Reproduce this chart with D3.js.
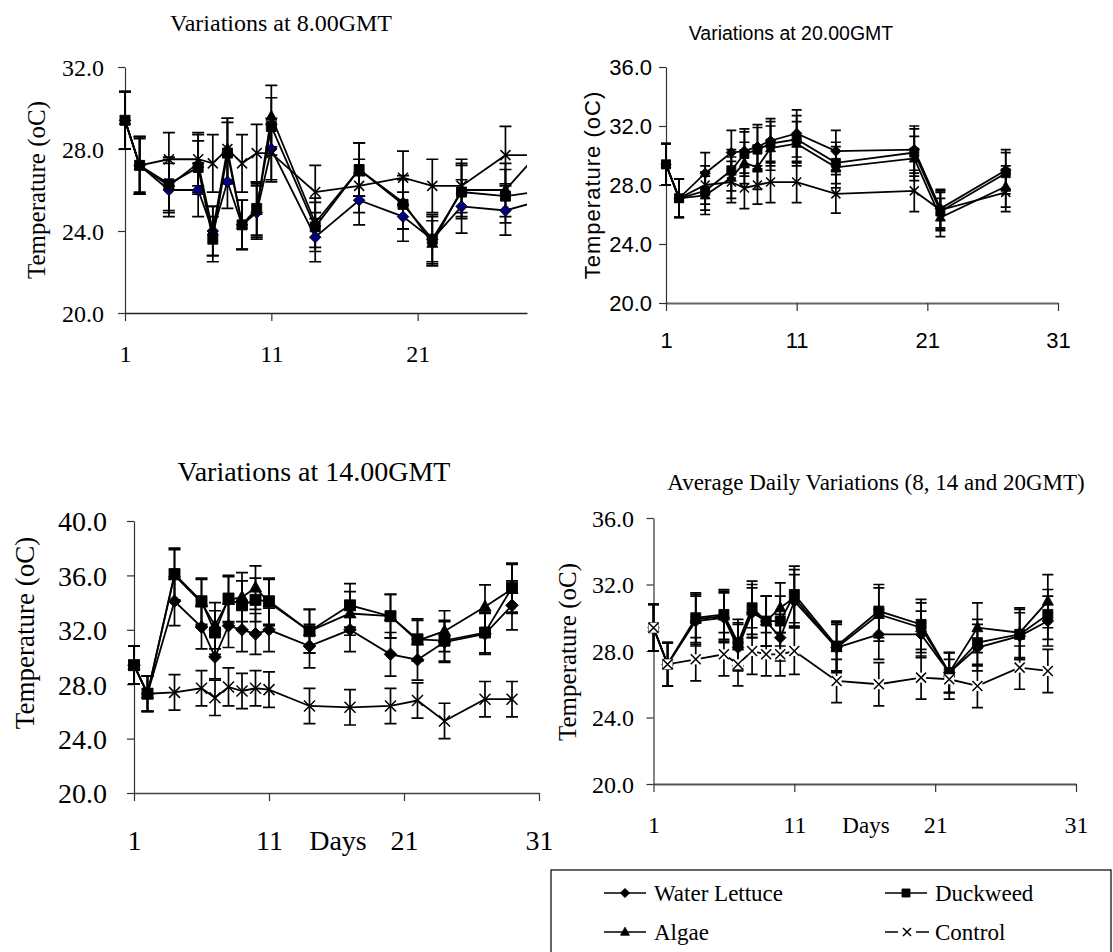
<!DOCTYPE html>
<html>
<head>
<meta charset="utf-8">
<script src="https://cdn.jsdelivr.net/npm/d3@7/dist/d3.min.js"></script>
<style>
body { margin: 0; background: #fff; }
</style>
</head>
<body>
<svg id="chart" width="1113" height="952"></svg>
<script>
// days sampled
var dayAll = [1, 2, 4, 6, 7, 8, 9, 10, 11, 14, 17, 20, 22, 24, 27, 29];
var day20 = [1, 2, 4, 6, 7, 8, 9, 11, 14, 20, 22, 27];
var seriesNames = ["Water Lettuce", "Duckweed", "Algae", "Control"];
var seriesMarks = ["diamond", "square", "triangle", "cross"];

// 8.00 GMT
var wl08 = [29.4, 27.2, 26.0, 26.0, 24.0, 26.4, 24.3, 24.9, 28.0, 23.7, 25.5, 24.7, 23.6, 25.2, 25.0, 25.4];
var dw08 = [29.4, 27.2, 26.3, 27.1, 23.6, 27.8, 24.3, 25.1, 29.1, 24.2, 27.0, 25.3, 23.6, 25.9, 25.7, 25.9];
var al08 = [29.4, 27.2, 26.2, 27.3, 24.0, 28.0, 24.3, 25.0, 29.6, 24.4, 27.0, 25.4, 23.4, 26.0, 26.0, 27.6];
var ct08 = [29.4, 27.2, 27.5, 27.5, 27.3, 28.0, 27.3, 27.8, 27.8, 25.9, 26.2, 26.6, 26.2, 26.2, 27.7, 27.7];
var wl08Err = [1.4, 1.3, 1.3, 1.3, 1.2, 1.3, 1.2, 1.3, 1.5, 1.2, 1.2, 1.2, 1.2, 1.3, 1.2, 1.2];
var dw08Err = [1.4, 1.4, 1.3, 1.3, 1.1, 1.5, 1.2, 1.3, 1.4, 1.2, 1.3, 1.2, 1.1, 1.3, 1.3, 1.3];
var al08Err = [1.4, 1.4, 1.3, 1.4, 1.2, 1.5, 1.2, 1.3, 1.5, 1.2, 1.3, 1.3, 1.1, 1.3, 1.3, 1.3];
var ct08Err = [1.4, 1.4, 1.3, 1.3, 1.4, 1.5, 1.4, 1.4, 1.4, 1.3, 1.3, 1.3, 1.3, 1.3, 1.4, 1.4];

// 20.00 GMT
var wl20 = [29.4, 27.1, 28.8, 30.2, 30.3, 30.6, 31.0, 31.5, 30.3, 30.4, 26.4, 29.0];
var dw20 = [29.4, 27.1, 27.6, 29.0, 30.1, 30.4, 30.8, 31.1, 29.5, 30.2, 26.2, 28.8];
var al20 = [29.4, 27.1, 27.3, 28.5, 29.5, 29.2, 30.5, 30.8, 29.2, 29.8, 25.8, 27.9];
var ct20 = [29.4, 27.1, 28.0, 28.2, 27.8, 28.0, 28.2, 28.2, 27.4, 27.6, 26.3, 27.5];
var wl20Err = [1.4, 1.3, 1.4, 1.5, 1.5, 1.5, 1.5, 1.6, 1.4, 1.6, 1.3, 1.4];
var dw20Err = [1.4, 1.3, 1.3, 1.4, 1.5, 1.5, 1.5, 1.6, 1.4, 1.6, 1.3, 1.4];
var al20Err = [1.4, 1.3, 1.3, 1.4, 1.4, 1.5, 1.5, 1.5, 1.4, 1.5, 1.3, 1.4];
var ct20Err = [1.4, 1.3, 1.3, 1.4, 1.4, 1.3, 1.4, 1.4, 1.3, 1.4, 1.3, 1.3];

// 14.00 GMT
var wl14 = [29.4, 27.3, 34.1, 32.2, 30.0, 32.3, 32.0, 31.7, 32.0, 30.8, 32.0, 30.2, 29.8, 31.1, 31.7, 33.8];
var dw14 = [29.4, 27.3, 36.1, 34.1, 31.8, 34.3, 33.8, 34.2, 34.1, 31.9, 33.8, 33.0, 31.3, 31.2, 31.8, 35.1];
var al14 = [29.4, 27.3, 36.0, 34.0, 32.3, 34.2, 34.4, 35.1, 34.0, 31.9, 33.2, 33.0, 31.2, 31.9, 33.7, 35.0];
var ct14 = [29.4, 27.3, 27.4, 27.7, 27.0, 27.8, 27.5, 27.7, 27.6, 26.4, 26.3, 26.4, 26.8, 25.3, 26.9, 26.9];
var wl14Err = [1.4, 1.3, 1.8, 1.6, 1.6, 1.6, 1.6, 1.5, 1.6, 1.6, 1.6, 1.6, 1.5, 1.5, 1.5, 1.8];
var dw14Err = [1.4, 1.3, 1.9, 1.7, 1.6, 1.7, 1.8, 1.6, 1.7, 1.6, 1.6, 1.6, 1.5, 1.5, 1.5, 1.8];
var al14Err = [1.4, 1.3, 1.9, 1.7, 1.7, 1.7, 1.8, 1.6, 1.7, 1.6, 1.6, 1.6, 1.5, 1.5, 1.6, 1.8];
var ct14Err = [1.4, 1.3, 1.3, 1.3, 1.3, 1.4, 1.3, 1.3, 1.3, 1.3, 1.3, 1.3, 1.3, 1.3, 1.3, 1.3];

// average of 8, 14 and 20 GMT
var wlAvg = [29.4, 27.2, 29.8, 30.0, 28.2, 30.3, 29.8, 28.8, 31.0, 28.2, 29.0, 29.0, 26.7, 28.2, 28.9, 29.8];
var dwAvg = [29.4, 27.2, 30.0, 30.2, 28.5, 30.6, 29.8, 29.8, 31.4, 28.3, 30.4, 29.6, 26.7, 28.5, 29.0, 30.2];
var alAvg = [29.4, 27.2, 29.9, 30.1, 28.3, 30.4, 29.8, 30.6, 31.2, 28.2, 30.2, 29.4, 26.7, 29.4, 29.1, 31.0];
var ctAvg = [29.4, 27.2, 27.5, 27.8, 27.2, 28.0, 27.8, 27.8, 28.0, 26.2, 26.0, 26.4, 26.3, 25.9, 27.0, 26.8];
var wlAvgErr = [1.4, 1.3, 1.5, 1.5, 1.4, 1.5, 1.5, 1.4, 1.6, 1.4, 1.5, 1.4, 1.2, 1.4, 1.4, 1.5];
var dwAvgErr = [1.4, 1.3, 1.5, 1.5, 1.4, 1.6, 1.5, 1.5, 1.7, 1.5, 1.6, 1.5, 1.2, 1.4, 1.5, 1.5];
var alAvgErr = [1.4, 1.3, 1.5, 1.5, 1.4, 1.6, 1.5, 1.5, 1.7, 1.5, 1.6, 1.5, 1.2, 1.5, 1.5, 1.6];
var ctAvgErr = [1.4, 1.3, 1.3, 1.3, 1.3, 1.4, 1.3, 1.3, 1.4, 1.3, 1.3, 1.3, 1.2, 1.3, 1.3, 1.3];

var serif = "Liberation Serif";
var sans = "Liberation Sans";

var panels = [
	{ id: "p08", title: "Variations at 8.00GMT", days: dayAll,
	  values: [wl08, dw08, al08, ct08], errors: [wl08Err, dw08Err, al08Err, ct08Err],
	  yDomain: [20, 32], yTicks: [20, 24, 28, 32], xTicks: [1, 11, 21],
	  font: serif, titleSize: 24, titleX: 281, titleY: 23,
	  left: 125, right: 564, clipRight: 527, top: 67, bottom: 313,
	  tickFont: 24, yLabRight: 104, xLabY: 354, xTitle: null,
	  yTitleX: 36, yTitleY: 190, yTitleSize: 25, letterSp: 0,
	  diamondFill: "#000080", mk: 5, cap: 6, crossBg: false, xAxisColor: "#222", xAxisWidth: 1.3 },
	{ id: "p20", title: "Variations at 20.00GMT", days: day20,
	  values: [wl20, dw20, al20, ct20], errors: [wl20Err, dw20Err, al20Err, ct20Err],
	  yDomain: [20, 36], yTicks: [20, 24, 28, 32, 36], xTicks: [1, 11, 21, 31],
	  font: sans, titleSize: 19.5, titleX: 791, titleY: 33,
	  left: 666, right: 1058, clipRight: 1113, top: 67, bottom: 303,
	  tickFont: 22, yLabRight: 652, xLabY: 340, xTitle: null,
	  yTitleX: 592, yTitleY: 185, yTitleSize: 22, letterSp: 1,
	  diamondFill: "#000", mk: 4.5, cap: 5, crossBg: false, xAxisColor: "#666", xAxisWidth: 2 },
	{ id: "p14", title: "Variations at 14.00GMT", days: dayAll,
	  values: [wl14, dw14, al14, ct14], errors: [wl14Err, dw14Err, al14Err, ct14Err],
	  yDomain: [20, 40], yTicks: [20, 24, 28, 32, 36, 40], xTicks: [1, 11, 21, 31],
	  font: serif, titleSize: 28, titleX: 314, titleY: 471,
	  left: 134, right: 539, clipRight: 1113, top: 521, bottom: 793,
	  tickFont: 28, yLabRight: 107, xLabY: 840, xTitle: { text: "Days", x: 338, size: 28 },
	  yTitleX: 25, yTitleY: 633, yTitleSize: 27, letterSp: 0,
	  diamondFill: "#000", mk: 5.5, cap: 6, crossBg: false, xAxisColor: "#444", xAxisWidth: 1.5 },
	{ id: "pAvg", title: "Average Daily Variations (8, 14 and 20GMT)", days: dayAll,
	  values: [wlAvg, dwAvg, alAvg, ctAvg], errors: [wlAvgErr, dwAvgErr, alAvgErr, ctAvgErr],
	  yDomain: [20, 36], yTicks: [20, 24, 28, 32, 36], xTicks: [1, 11, 21, 31],
	  font: serif, titleSize: 23, titleX: 876, titleY: 482,
	  left: 653.5, right: 1076, clipRight: 1113, top: 518, bottom: 784,
	  tickFont: 24, yLabRight: 634, xLabY: 825, xTitle: { text: "Days", x: 866, size: 23 },
	  yTitleX: 567, yTitleY: 652, yTitleSize: 25, letterSp: 0,
	  diamondFill: "#000", mk: 5, cap: 5.5, crossBg: true, xAxisColor: "#555", xAxisWidth: 1.8 }
];

var svg = d3.select("#chart");
var defs = svg.append("defs");

function markerPath(type, s) {
	if (type === "diamond") {
		return "M0," + (-s * 1.15) + "L" + (s * 1.15) + ",0L0," + (s * 1.15) + "L" + (-s * 1.15) + ",0Z";
	} else if (type === "square") {
		return "M" + (-s) + "," + (-s) + "H" + s + "V" + s + "H" + (-s) + "Z";
	} else if (type === "triangle") {
		return "M0," + (-s * 1.2) + "L" + (s * 1.1) + "," + (s * 0.8) + "H" + (-s * 1.1) + "Z";
	}
	return "M" + (-s) + "," + (-s) + "L" + s + "," + s + "M" + s + "," + (-s) + "L" + (-s) + "," + s;
}

function drawMarker(g, type, cx, cy, s, fill, crossBg) {
	if (type === "cross") {
		if (crossBg) {
			g.append("rect").attr("x", cx - s).attr("y", cy - s)
				.attr("width", 2 * s).attr("height", 2 * s).attr("fill", "#fff");
		}
		g.append("path").attr("d", markerPath(type, s))
			.attr("transform", "translate(" + cx + "," + cy + ")")
			.attr("stroke", "#000").attr("stroke-width", 1.5).attr("fill", "none");
	} else {
		g.append("path").attr("d", markerPath(type, s))
			.attr("transform", "translate(" + cx + "," + cy + ")")
			.attr("fill", fill).attr("stroke", "#000").attr("stroke-width", 0.9);
	}
}

panels.forEach(function (p) {

	var x = d3.scaleLinear().domain([1, 31]).range([p.left, p.right]);
	var y = d3.scaleLinear().domain(p.yDomain).range([p.bottom, p.top]);

	var g = svg.append("g").attr("class", "panel " + p.id);

	defs.append("clipPath").attr("id", "clip-" + p.id)
		.append("rect").attr("x", 0).attr("y", 0)
		.attr("width", p.clipRight).attr("height", 952);

	// title
	g.append("text")
		.attr("x", p.titleX).attr("y", p.titleY)
		.attr("text-anchor", "middle").attr("dominant-baseline", "central")
		.style("font-family", p.font).attr("font-size", p.titleSize)
		.text(p.title);

	// axes
	var axisEnd = Math.min(p.right, p.clipRight);
	var xAxisScale = x.copy().domain([1, x.invert(axisEnd)]).range([p.left, axisEnd]);

	var xAxis = g.append("g")
		.attr("transform", "translate(0," + p.bottom + ")")
		.call(d3.axisBottom(xAxisScale).tickValues(p.xTicks).tickSize(8).tickSizeOuter(0).tickFormat(d3.format("d")));

	var yAxis = g.append("g")
		.attr("transform", "translate(" + p.left + ",0)")
		.call(d3.axisLeft(y).tickValues(p.yTicks).tickSize(7).tickSizeOuter(0).tickFormat(d3.format(".1f")));

	[xAxis, yAxis].forEach(function (a) {
		a.select(".domain").attr("stroke", "#333").attr("stroke-width", 1.2);
		a.selectAll(".tick line").attr("stroke", "#333").attr("stroke-width", 1.2);
		a.selectAll(".tick text")
			.style("font-family", p.font).attr("font-size", p.tickFont).attr("fill", "#000");
	});
	xAxis.select(".domain").attr("stroke", p.xAxisColor).attr("stroke-width", p.xAxisWidth);

	xAxis.selectAll(".tick text").attr("y", p.xLabY - p.bottom).attr("dy", "0.35em");
	yAxis.selectAll(".tick text").attr("x", p.yLabRight - p.left).attr("dy", "0.35em");

	if (p.xTitle) {
		g.append("text")
			.attr("x", p.xTitle.x).attr("y", p.xLabY)
			.attr("text-anchor", "middle").attr("dominant-baseline", "central")
			.style("font-family", p.font).attr("font-size", p.xTitle.size)
			.text(p.xTitle.text);
	}

	g.append("text")
		.attr("transform", "translate(" + p.yTitleX + "," + p.yTitleY + ") rotate(-90)")
		.attr("text-anchor", "middle").attr("dominant-baseline", "central")
		.style("font-family", p.font).attr("font-size", p.yTitleSize)
		.attr("letter-spacing", p.letterSp)
		.text("Temperature (oC)");

	// plot area
	var plot = g.append("g").attr("clip-path", "url(#clip-" + p.id + ")");

	var seriesData = p.values.map(function (vals, si) {
		return vals.map(function (v, i) {
			return { day: p.days[i], v: v, e: p.errors[si][i] };
		});
	});

	// error bars
	seriesData.forEach(function (pts) {
		pts.forEach(function (d) {
			var cx = x(d.day), y1 = y(d.v + d.e), y2 = y(d.v - d.e);
			plot.append("path")
				.attr("d", "M" + cx + "," + y1 + "V" + y2 +
					"M" + (cx - p.cap) + "," + y1 + "H" + (cx + p.cap) +
					"M" + (cx - p.cap) + "," + y2 + "H" + (cx + p.cap))
				.attr("stroke", "#000").attr("stroke-width", 1.7).attr("fill", "none");
		});
	});

	var line = d3.line().x(function (d) { return x(d.day); }).y(function (d) { return y(d.v); });

	seriesData.forEach(function (pts, si) {
		plot.append("path").datum(pts)
			.attr("d", line)
			.attr("fill", "none").attr("stroke", "#000").attr("stroke-width", 1.8);
		var mg = plot.append("g");
		pts.forEach(function (d) {
			var fill = seriesMarks[si] === "diamond" ? p.diamondFill : "#000";
			drawMarker(mg, seriesMarks[si], x(d.day), y(d.v), p.mk, fill, p.crossBg);
		});
	});
});

// legend
var legend = svg.append("g").attr("class", "legend");
legend.append("rect")
	.attr("x", 551).attr("y", 870).attr("width", 560).attr("height", 100)
	.attr("fill", "#fff").attr("stroke", "#000").attr("stroke-width", 1.2);

var legendCols = [604, 885];
var legendRows = [893, 932];

seriesNames.forEach(function (name, i) {
	var lx = legendCols[i % 2], ly = legendRows[Math.floor(i / 2)];
	var item = legend.append("g");
	if (seriesMarks[i] === "cross") {
		item.append("path").attr("d", "M" + lx + "," + ly + "H" + (lx + 13) + "M" + (lx + 31) + "," + ly + "H" + (lx + 44))
			.attr("stroke", "#000").attr("stroke-width", 1.4);
		drawMarker(item, "cross", lx + 22, ly, 4, "#000", false);
	} else {
		item.append("line").attr("x1", lx).attr("x2", lx + 42).attr("y1", ly).attr("y2", ly)
			.attr("stroke", "#000").attr("stroke-width", 1.6);
		drawMarker(item, seriesMarks[i], lx + 21, ly, 4, "#000", false);
	}
	item.append("text")
		.attr("x", lx + 50).attr("y", ly)
		.attr("dominant-baseline", "central")
		.style("font-family", serif).attr("font-size", 23)
		.text(name);
});
</script>
</body>
</html>
